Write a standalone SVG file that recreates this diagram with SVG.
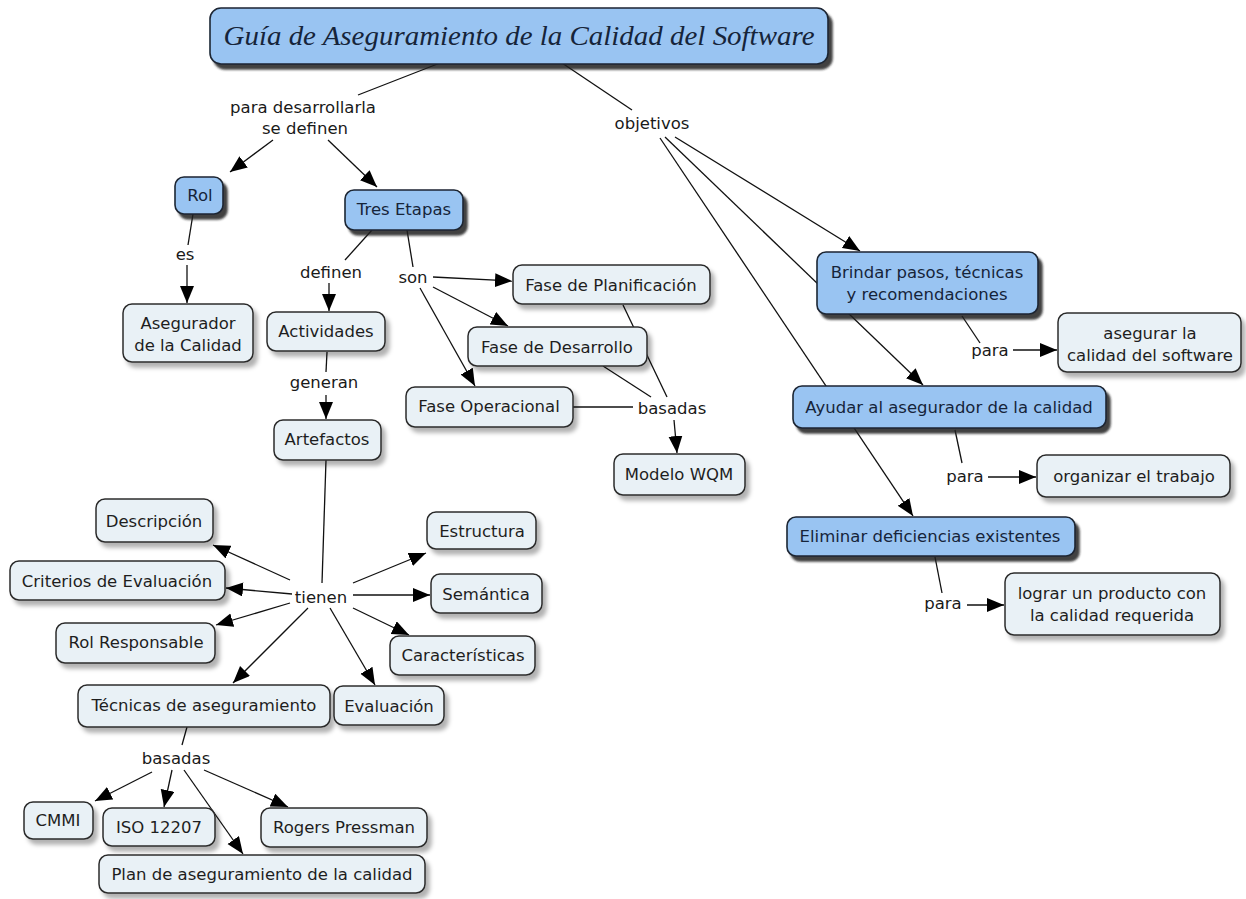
<svg xmlns="http://www.w3.org/2000/svg" width="1246" height="899" viewBox="0 0 1246 899">
<defs>
<style>
.lb{fill:#e9f1f6;stroke:#2b2b2b;stroke-width:1.5;filter:url(#shL)}
.bb{fill:#99c4f2;stroke:#1c2533;stroke-width:1.6;filter:url(#shB)}
.t{font-family:"DejaVu Sans",Verdana,sans-serif;font-size:16.5px;fill:#1e1e1e;text-anchor:middle}
.tb{font-family:"DejaVu Sans",Verdana,sans-serif;font-size:16.5px;fill:#16243a;text-anchor:middle}
.lk{font-family:"DejaVu Sans",Verdana,sans-serif;font-size:16.5px;fill:#1a1a1a;text-anchor:middle}
.c{stroke:#111;stroke-width:1.3;fill:none}
.a{marker-end:url(#ah)}
</style>
<marker id="ah" markerUnits="userSpaceOnUse" markerWidth="18" markerHeight="15" refX="17" refY="7" orient="auto">
<path d="M0,0 L17,7 L0,14 Z" fill="#000"/>
</marker>
<filter id="shL" x="-10%" y="-20%" width="130%" height="160%">
<feDropShadow dx="4" dy="5" stdDeviation="2" flood-color="#000" flood-opacity="0.3"/>
</filter>
<filter id="shB" x="-10%" y="-20%" width="130%" height="160%">
<feDropShadow dx="4" dy="5" stdDeviation="1" flood-color="#222" flood-opacity="0.85"/>
</filter>
</defs>
<rect width="1246" height="899" fill="#fff"/>

<g id="connectors">
<path class="c" d="M440,63 L358,95"/>
<path class="c" d="M562,63 L632,110"/>
<path class="c a" d="M273,140 L230,172"/>
<path class="c a" d="M328,140 L377,187"/>
<path class="c" d="M193,214 L188,245"/>
<path class="c a" d="M187,265 L187,303"/>
<path class="c" d="M372,230 L345,260"/>
<path class="c a" d="M329,283 L329,311"/>
<path class="c" d="M407,230 L413,267"/>
<path class="c a" d="M433,277 L512,281"/>
<path class="c a" d="M433,287 L508,326"/>
<path class="c a" d="M420,288 L475,386"/>
<path class="c" d="M327,352 L326,372"/>
<path class="c a" d="M326,395 L326,419"/>
<path class="c" d="M623,305 L667,397"/>
<path class="c" d="M603,366 L651,397"/>
<path class="c" d="M573,407 L633,407"/>
<path class="c a" d="M674,420 L677,453"/>
<path class="c" d="M326,460 L322,583"/>
<path class="c a" d="M290,580 L213,545"/>
<path class="c a" d="M292,594 L226,588"/>
<path class="c a" d="M290,603 L216,625"/>
<path class="c a" d="M308,608 L233,683"/>
<path class="c a" d="M330,608 L375,685"/>
<path class="c a" d="M353,583 L426,553"/>
<path class="c a" d="M353,595 L430,595"/>
<path class="c a" d="M353,608 L409,635"/>
<path class="c" d="M187,727 L182,745"/>
<path class="c a" d="M152,772 L95,801"/>
<path class="c a" d="M172,770 L164,807"/>
<path class="c a" d="M184,770 L243,854"/>
<path class="c a" d="M204,770 L288,807"/>
<path class="c a" d="M675,137 L860,251"/>
<path class="c a" d="M665,137 L923,385"/>
<path class="c a" d="M660,138 L913,516"/>
<path class="c" d="M962,316 L980,343"/>
<path class="c a" d="M1013,350 L1057,350"/>
<path class="c" d="M955,430 L962,463"/>
<path class="c a" d="M988,477 L1036,477"/>
<path class="c" d="M935,557 L942,593"/>
<path class="c a" d="M967,605 L1004,605"/>
</g>

<g id="title">
<rect class="bb" x="210" y="8" width="618" height="56" rx="11"/>
<text x="519" y="45" font-family="'Liberation Serif','Times New Roman',serif" font-style="italic" font-size="27" fill="#16243a" text-anchor="middle" textLength="591" lengthAdjust="spacingAndGlyphs">Guía de Aseguramiento de la Calidad del Software</text>
</g>

<g id="link-para-desarrollarla"><text class="lk" x="303" y="113">para desarrollarla</text><text class="lk" x="305" y="134">se definen</text></g>
<g id="link-objetivos"><text class="lk" x="652" y="129">objetivos</text></g>
<g id="link-es"><text class="lk" x="185" y="260">es</text></g>
<g id="link-definen"><text class="lk" x="331" y="278">definen</text></g>
<g id="link-son"><text class="lk" x="413" y="283">son</text></g>
<g id="link-generan"><text class="lk" x="324" y="388">generan</text></g>
<g id="link-basadas1"><text class="lk" x="672" y="414">basadas</text></g>
<g id="link-tienen"><text class="lk" x="321" y="603">tienen</text></g>
<g id="link-basadas2"><text class="lk" x="176" y="764">basadas</text></g>
<g id="link-para1"><text class="lk" x="990" y="356">para</text></g>
<g id="link-para2"><text class="lk" x="965" y="482">para</text></g>
<g id="link-para3"><text class="lk" x="943" y="609">para</text></g>

<g id="rol"><rect class="bb" x="175" y="177" width="48" height="37" rx="9"/><text class="tb" x="200" y="201">Rol</text></g>
<g id="tres-etapas"><rect class="bb" x="345" y="190" width="118" height="40" rx="9"/><text class="tb" x="404" y="215">Tres Etapas</text></g>
<g id="asegurador"><rect class="lb" x="123" y="304" width="130" height="58" rx="9"/><text class="t" x="188" y="329">Asegurador</text><text class="t" x="188" y="351">de la Calidad</text></g>
<g id="actividades"><rect class="lb" x="267" y="312" width="118" height="39" rx="9"/><text class="t" x="326" y="337">Actividades</text></g>
<g id="artefactos"><rect class="lb" x="274" y="420" width="107" height="40" rx="9"/><text class="t" x="327" y="445">Artefactos</text></g>
<g id="fase-planificacion"><rect class="lb" x="513" y="265" width="197" height="39" rx="9"/><text class="t" x="611" y="291">Fase de Planificación</text></g>
<g id="fase-desarrollo"><rect class="lb" x="468" y="327" width="179" height="39" rx="9"/><text class="t" x="557" y="353">Fase de Desarrollo</text></g>
<g id="fase-operacional"><rect class="lb" x="406" y="387" width="167" height="40" rx="9"/><text class="t" x="489" y="412">Fase Operacional</text></g>
<g id="modelo-wqm"><rect class="lb" x="614" y="454" width="131" height="41" rx="9"/><text class="t" x="679" y="480">Modelo WQM</text></g>

<g id="brindar"><rect class="bb" x="817" y="252" width="221" height="62" rx="9"/><text class="tb" x="927" y="278">Brindar pasos, técnicas</text><text class="tb" x="927" y="300">y recomendaciones</text></g>
<g id="asegurar"><rect class="lb" x="1058" y="313" width="183" height="59" rx="9"/><text class="t" x="1150" y="339">asegurar la</text><text class="t" x="1150" y="361">calidad del software</text></g>
<g id="ayudar"><rect class="bb" x="793" y="386" width="313" height="42" rx="9"/><text class="tb" x="949" y="413">Ayudar al asegurador de la calidad</text></g>
<g id="organizar"><rect class="lb" x="1037" y="455" width="193" height="42" rx="9"/><text class="t" x="1134" y="482">organizar el trabajo</text></g>
<g id="eliminar"><rect class="bb" x="787" y="517" width="288" height="39" rx="9"/><text class="tb" x="930" y="542">Eliminar deficiencias existentes</text></g>
<g id="lograr"><rect class="lb" x="1005" y="573" width="215" height="62" rx="9"/><text class="t" x="1112" y="599">lograr un producto con</text><text class="t" x="1112" y="621">la calidad requerida</text></g>

<g id="descripcion"><rect class="lb" x="96" y="499" width="117" height="43" rx="9"/><text class="t" x="154" y="527">Descripción</text></g>
<g id="criterios"><rect class="lb" x="10" y="561" width="215" height="39" rx="9"/><text class="t" x="117" y="587">Criterios de Evaluación</text></g>
<g id="rol-responsable"><rect class="lb" x="56" y="623" width="159" height="40" rx="9"/><text class="t" x="136" y="648">Rol Responsable</text></g>
<g id="tecnicas"><rect class="lb" x="78" y="685" width="252" height="42" rx="9"/><text class="t" x="204" y="711">Técnicas de aseguramiento</text></g>
<g id="evaluacion"><rect class="lb" x="334" y="686" width="110" height="39" rx="9"/><text class="t" x="389" y="712">Evaluación</text></g>
<g id="estructura"><rect class="lb" x="427" y="512" width="109" height="37" rx="9"/><text class="t" x="482" y="537">Estructura</text></g>
<g id="semantica"><rect class="lb" x="431" y="574" width="111" height="39" rx="9"/><text class="t" x="486" y="600">Semántica</text></g>
<g id="caracteristicas"><rect class="lb" x="390" y="636" width="145" height="39" rx="9"/><text class="t" x="463" y="661">Características</text></g>
<g id="cmmi"><rect class="lb" x="24" y="802" width="69" height="37" rx="9"/><text class="t" x="58" y="826">CMMI</text></g>
<g id="iso"><rect class="lb" x="103" y="808" width="112" height="38" rx="9"/><text class="t" x="159" y="833">ISO 12207</text></g>
<g id="rogers"><rect class="lb" x="261" y="808" width="166" height="39" rx="9"/><text class="t" x="344" y="833">Rogers Pressman</text></g>
<g id="plan"><rect class="lb" x="99" y="855" width="326" height="38" rx="9"/><text class="t" x="262" y="880">Plan de aseguramiento de la calidad</text></g>
</svg>
